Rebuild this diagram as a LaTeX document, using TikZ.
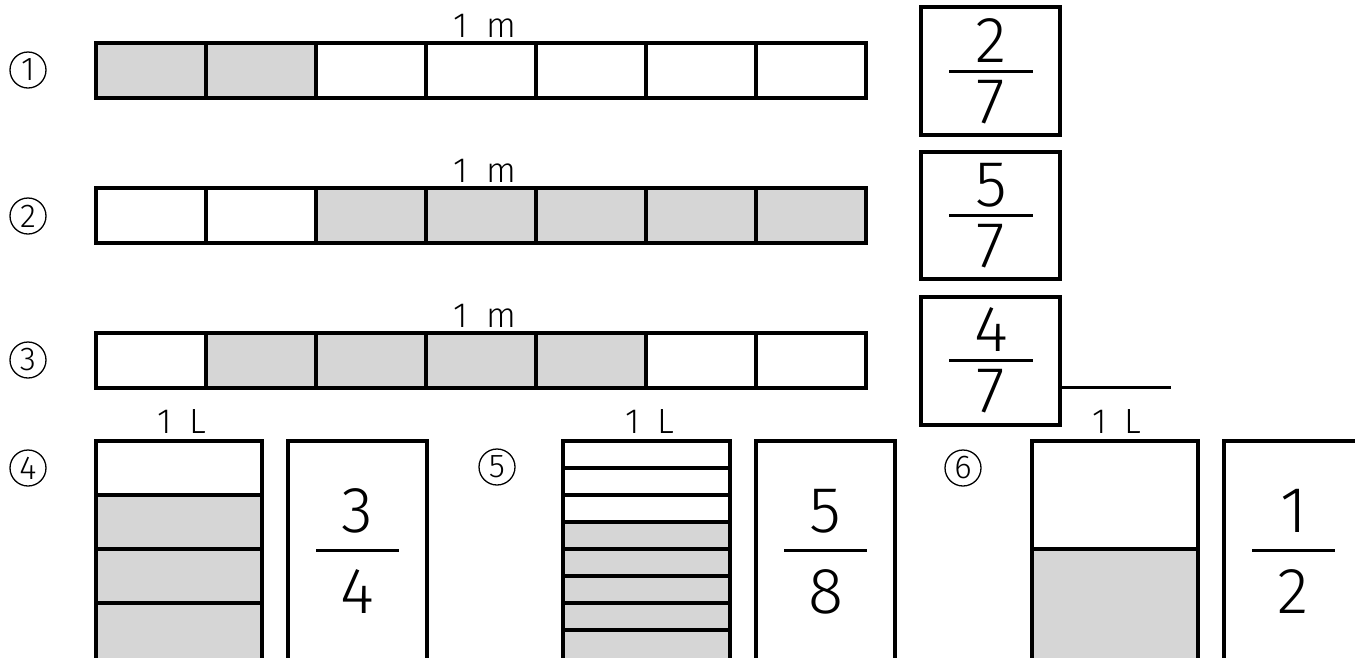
\documentclass[tikz,border=0pt]{standalone}
\usepackage{fontspec}
\setmainfont{Fira Sans Light}
\begin{document}
\begin{tikzpicture}[x=1pt,y=-1pt,
  shadefill/.style={fill=black!16},
  frame/.style={line width=3.5pt},
  thin/.style={line width=3pt},
  lbl/.style={font=\fontsize{35}{35}\selectfont, inner sep=0pt, anchor=base},
  num/.style={font=\fontsize{65}{65}\selectfont, inner sep=0pt, anchor=base},
  circ/.style={circle, draw, line width=1.3pt, minimum size=36pt, inner sep=0pt,
               font=\fontsize{33}{33}\selectfont}]
\useasboundingbox (0,0) rectangle (1355,657);
\clip (0,0) rectangle (1355,657);

% ---------- horizontal bars (rows 1-3) ----------
\fill[shadefill] (96,43) rectangle (316,98);
\fill[shadefill] (316,188) rectangle (866,243);
\fill[shadefill] (206,333) rectangle (646,388);
\foreach \yt/\yb in {43/98,188/243,333/388}{
  \draw[frame] (96,\yt) rectangle (866,\yb);
  \foreach \i in {1,...,6}{
    \draw[frame] ({96+110*\i},\yt) -- ({96+110*\i},\yb);
  }
}
\node[lbl] (m1) at (485,37) {1\hspace{18pt}m};
\node[lbl] (m2) at (485,182) {1\hspace{18pt}m};
\node[lbl] (m3) at (485,327) {1\hspace{18pt}m};

% ---------- answer boxes rows 1-3 ----------
\draw[frame] (921,7) rectangle (1060,135);
\draw[frame] (921,152) rectangle (1060,279);
\draw[frame] (921,297) rectangle (1060,425);
\draw[thin] (949,71) -- (1033,71);
\draw[thin] (949,215) -- (1033,215);
\draw[thin] (949,360) -- (1033,360);
\node[num] (n1) at (991,62) {2};
\node[num] (d1) at (991,123) {7};
\node[num] (n2) at (991,206) {5};
\node[num] (d2) at (991,267) {7};
\node[num] (n3) at (991,351) {4};
\node[num] (d3) at (991,412) {7};
\coordinate (ls) at (1060,387);
\coordinate (le) at (1171,387);
\draw[thin] (ls) -- (le);

% ---------- circled numbers ----------
\node[circ] (c1) at (28,70) {1};
\node[circ] (c2) at (28,216) {2};
\node[circ] (c3) at (28,360) {3};
\node[circ] (c4) at (28,468) {4};
\node[circ] (c5) at (497,467) {5};
\node[circ] (c6) at (963,468) {6};

% ---------- containers ----------
\fill[shadefill] (96,495) rectangle (262,670);
\draw[frame] (96,670) -- (96,441) -- (262,441) -- (262,670);
\foreach \y in {495,549,603}{ \draw[frame] (96,\y) -- (262,\y); }
\fill[shadefill] (563,522) rectangle (730,670);
\draw[frame] (563,670) -- (563,441) -- (730,441) -- (730,670);
\foreach \k in {1,...,7}{ \draw[frame] (563,{441+27*\k}) -- (730,{441+27*\k}); }
\fill[shadefill] (1032,549) rectangle (1198,670);
\draw[frame] (1032,670) -- (1032,441) -- (1198,441) -- (1198,670);
\draw[frame] (1032,549) -- (1198,549);

\node[lbl] (L4) at (182,433) {1\hspace{18pt}L};
\node[lbl] (L5) at (650,433) {1\hspace{18pt}L};
\node[lbl] (L6) at (1117,433) {1\hspace{18pt}L};

% answer boxes bottom row
\draw[frame] (288,670) -- (288,441) -- (427,441) -- (427,670);
\draw[frame] (756,670) -- (756,441) -- (895,441) -- (895,670);
\draw[frame] (1224,670) -- (1224,441) -- (1363,441) -- (1363,670);
\draw[thin] (316,550) -- (399,550);
\draw[thin] (784,550) -- (867,550);
\draw[thin] (1252,550) -- (1335,550);
\node[num] (n4) at (357.5,532) {3};
\node[num] (d4) at (357.5,613) {4};
\node[num] (n5) at (825.5,532) {5};
\node[num] (d5) at (825.5,613) {8};
\node[num] (n6) at (1293.5,532) {1};
\node[num] (d6) at (1293.5,613) {2};
\end{tikzpicture}
\end{document}
